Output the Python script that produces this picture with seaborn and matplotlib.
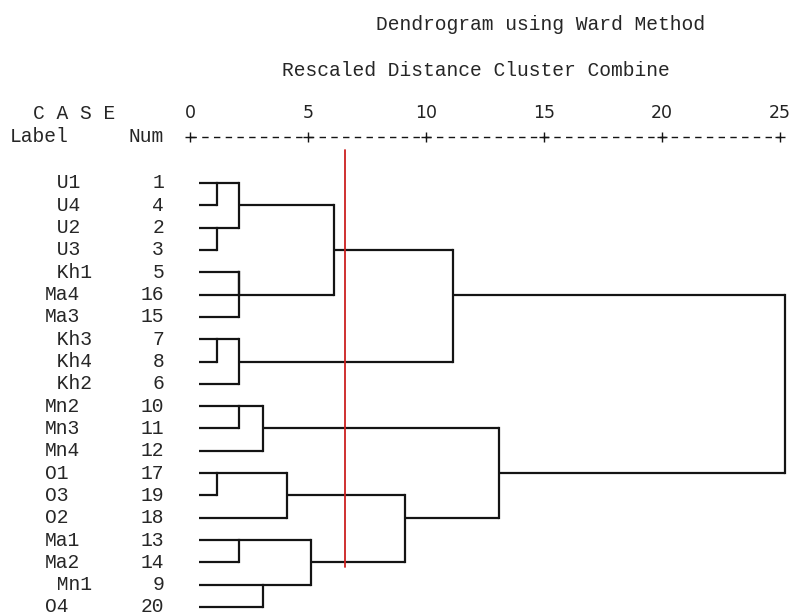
import numpy as np
import matplotlib
matplotlib.use("Agg")
import matplotlib.pyplot as plt
import seaborn as sns

# ── data ──────────────────────────────────────────────────────────────────────
case_labels = [" U1", " U4", " U2", " U3", " Kh1", "Ma4", "Ma3", " Kh3", " Kh4", " Kh2",
               "Mn2", "Mn3", "Mn4", "O1", "O3", "O2", "Ma1", "Ma2", " Mn1", "O4"]
case_nums = [1, 4, 2, 3, 5, 16, 15, 7, 8, 6, 10, 11, 12, 17, 19, 18, 13, 14, 9, 20]

# agglomeration steps: clusters named by their first row, rescaled distance
merge_a = [0, 2, 7, 13, 0, 4, 4, 7, 10, 16, 10, 18, 13, 16, 0, 13, 0, 10, 0]
merge_b = [1, 3, 8, 14, 2, 5, 6, 9, 11, 17, 12, 19, 15, 18, 4, 16, 7, 13, 10]
merge_h = [1.13, 1.13, 1.13, 1.13, 2.09, 2.09, 2.09, 2.09, 2.09, 2.09,
           3.1, 3.1, 4.1, 5.11, 6.11, 9.1, 11.14, 13.1, 25.2]

scale_ticks = [0, 5, 10, 15, 20, 25]
cut_level = 6.57

sns.set_theme(style="white")
plt.rcParams["font.family"] = ["Liberation Mono", "DejaVu Sans Mono"]

LEAF_START = 0.38
INK = "#141414"
MONO = 14.1

fig = plt.figure(figsize=(7.9, 6.15), dpi=100)
ax = fig.add_axes([0, 0, 1, 1])
ax.set_xlim(-8.05, 25.42)
ax.set_ylim(19.36, -8.2)
ax.axis("off")

# ── tree ──────────────────────────────────────────────────────────────────────
rep = {i: i for i in range(len(case_labels))}
reach = {i: LEAF_START for i in range(len(case_labels))}
for a, b, h in zip(merge_a, merge_b, merge_h):
    for c in (a, b):
        if h > reach[c]:
            ax.plot([reach[c], h], [rep[c], rep[c]], color=INK, lw=1.6,
                    solid_capstyle="butt")
    ax.plot([h, h], [rep[a], rep[b]], color=INK, lw=1.6, solid_capstyle="projecting")
    rep[a] = int(np.floor((rep[a] + rep[b]) / 2))
    reach[a] = h

# cut line
ax.plot([cut_level, cut_level], [-1.48, 17.2], color="#cc2020", lw=1.3)

# ── text ──────────────────────────────────────────────────────────────────────
ax.text(14.87, -7.12, "Dendrogram using Ward Method", ha="center", va="center",
        fontsize=MONO)
ax.text(12.12, -5.06, "Rescaled Distance Cluster Combine", ha="center", va="center",
        fontsize=MONO)
ax.text(-6.65, -3.12, "C A S E", ha="left", va="center", fontsize=MONO)
ax.text(-7.63, -2.07, "Label", ha="left", va="center", fontsize=MONO)
ax.text(-1.1, -2.07, "Num", ha="right", va="center", fontsize=MONO)

for t in scale_ticks:
    ax.text(t, -3.12, str(t), ha="center", va="center", fontsize=12.5,
            family="DejaVu Sans", color="#222222")

# dashed scale with + marks
ax.plot([scale_ticks[0], scale_ticks[-1]], [-2.07, -2.07], color=INK, lw=1.0,
        linestyle=(0, (4.6, 3.85)))
ax.plot(scale_ticks, [-2.07] * len(scale_ticks), linestyle="none", marker="+",
        markersize=7, markeredgewidth=1.0, color=INK)

for i, (lab, num) in enumerate(zip(case_labels, case_nums)):
    ax.text(-6.14, i, lab, ha="left", va="center", fontsize=MONO)
    ax.text(-1.1, i, str(num), ha="right", va="center", fontsize=MONO)

fig.savefig("out.png", dpi=100)
